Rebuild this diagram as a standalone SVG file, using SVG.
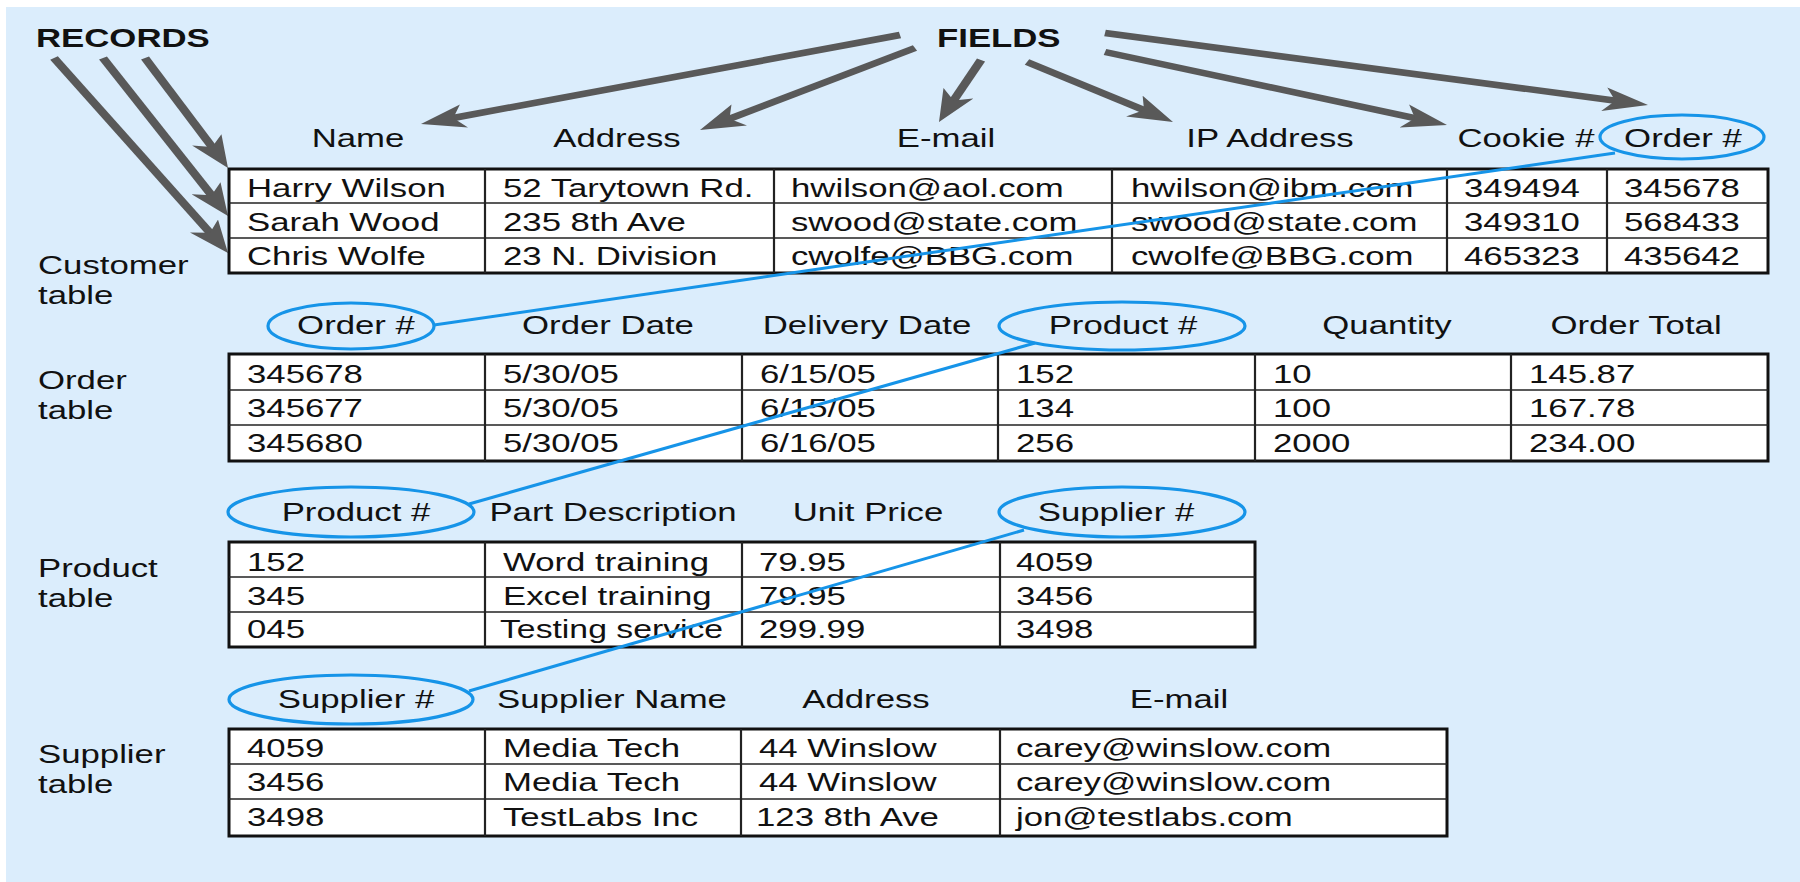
<svg xmlns="http://www.w3.org/2000/svg" width="1800" height="882" viewBox="0 0 1800 882">
<style>
.t{font-family:"Liberation Sans",Arial,sans-serif;font-size:25px;fill:#111}
.b{font-weight:bold}
.m{text-anchor:middle}
.tb{fill:#fff;stroke:#111;stroke-width:3}
.hl{stroke:#222;stroke-width:1.6}
.vl{stroke:#222;stroke-width:2.2}
.key{fill:none;stroke:#1694e8;stroke-width:3.2}
.lnk{stroke:#1694e8;stroke-width:3;fill:none}
.arw{stroke:#595959;stroke-width:6.5;fill:none;marker-end:url(#ah)}
</style>
<defs>
<marker id="ah" markerUnits="userSpaceOnUse" markerWidth="32" markerHeight="24" viewBox="0 0 32 24" refX="14" refY="12" orient="auto">
<path d="M0,0 L32,12 L0,24 L8,12 Z" fill="#595959"/>
</marker>
</defs>
<rect x="0" y="0" width="1800" height="882" fill="#fff"/>
<rect x="6" y="7" width="1794" height="875" fill="#dbedfc"/>

<g id="connectors">
<g transform="scale(1.39 1)">
<line class="arw" x1="38.85" y1="58" x2="154.30" y2="237.85"/>
<line class="arw" x1="74.10" y1="58" x2="155.13" y2="200.36"/>
<line class="arw" x1="104.32" y1="58" x2="155.44" y2="152.18"/>
<line class="arw" x1="647.48" y1="35" x2="320.31" y2="119.50"/>
<line class="arw" x1="658.27" y1="48" x2="519.50" y2="121.57"/>
<line class="arw" x1="705.76" y1="60" x2="683.43" y2="105.82"/>
<line class="arw" x1="738.85" y1="62" x2="828.25" y2="113.07"/>
<line class="arw" x1="794.96" y1="52" x2="1023.75" y2="119.88"/>
<line class="arw" x1="794.96" y1="33" x2="1167.91" y2="101.74"/>
</g>
</g>

<g id="records-label">
<text class="t b" transform="translate(36 47) scale(1.39 1)">RECORDS</text>
</g>
<g id="fields-label">
<text class="t b" transform="translate(937 47) scale(1.39 1)">FIELDS</text>
</g>

<g id="customer-table">
<text class="t" transform="translate(38 274) scale(1.39 1)">Customer</text>
<text class="t" transform="translate(38 304) scale(1.39 1)">table</text>
<text class="t m" transform="translate(358 147) scale(1.39 1)">Name</text>
<text class="t m" transform="translate(617 147) scale(1.39 1)">Address</text>
<text class="t m" transform="translate(946 147) scale(1.39 1)">E-mail</text>
<text class="t m" transform="translate(1270 147) scale(1.39 1)">IP Address</text>
<text class="t m" transform="translate(1526 147) scale(1.39 1)">Cookie #</text>
<text class="t m" transform="translate(1683 147) scale(1.39 1)">Order #</text>
<rect class="tb" x="229" y="169" width="1539" height="104"/>
<line class="hl" x1="229" y1="203" x2="1768" y2="203"/>
<line class="hl" x1="229" y1="238" x2="1768" y2="238"/>
<line class="vl" x1="485" y1="169" x2="485" y2="273"/>
<line class="vl" x1="774" y1="169" x2="774" y2="273"/>
<line class="vl" x1="1112" y1="169" x2="1112" y2="273"/>
<line class="vl" x1="1447" y1="169" x2="1447" y2="273"/>
<line class="vl" x1="1607" y1="169" x2="1607" y2="273"/>
<text class="t" transform="translate(247 197) scale(1.39 1)">Harry Wilson</text>
<text class="t" transform="translate(503 197) scale(1.39 1)">52 Tarytown Rd.</text>
<text class="t" transform="translate(791 197) scale(1.39 1)">hwilson@aol.com</text>
<text class="t" transform="translate(1131 197) scale(1.39 1)">hwilson@ibm.com</text>
<text class="t" transform="translate(1464 197) scale(1.39 1)">349494</text>
<text class="t" transform="translate(1624 197) scale(1.39 1)">345678</text>
<text class="t" transform="translate(247 231) scale(1.39 1)">Sarah Wood</text>
<text class="t" transform="translate(503 231) scale(1.39 1)">235 8th Ave</text>
<text class="t" transform="translate(791 231) scale(1.39 1)">swood@state.com</text>
<text class="t" transform="translate(1131 231) scale(1.39 1)">swood@state.com</text>
<text class="t" transform="translate(1464 231) scale(1.39 1)">349310</text>
<text class="t" transform="translate(1624 231) scale(1.39 1)">568433</text>
<text class="t" transform="translate(247 265) scale(1.39 1)">Chris Wolfe</text>
<text class="t" transform="translate(503 265) scale(1.39 1)">23 N. Division</text>
<text class="t" transform="translate(791 265) scale(1.39 1)">cwolfe@BBG.com</text>
<text class="t" transform="translate(1131 265) scale(1.39 1)">cwolfe@BBG.com</text>
<text class="t" transform="translate(1464 265) scale(1.39 1)">465323</text>
<text class="t" transform="translate(1624 265) scale(1.39 1)">435642</text>
</g>

<g id="order-table">
<text class="t" transform="translate(38 389) scale(1.39 1)">Order</text>
<text class="t" transform="translate(38 419) scale(1.39 1)">table</text>
<text class="t m" transform="translate(356 334) scale(1.39 1)">Order #</text>
<text class="t m" transform="translate(608 334) scale(1.39 1)">Order Date</text>
<text class="t m" transform="translate(867 334) scale(1.39 1)">Delivery Date</text>
<text class="t m" transform="translate(1123 334) scale(1.39 1)">Product #</text>
<text class="t m" transform="translate(1387 334) scale(1.39 1)">Quantity</text>
<text class="t m" transform="translate(1636 334) scale(1.39 1)">Order Total</text>
<rect class="tb" x="229" y="354" width="1539" height="107"/>
<line class="hl" x1="229" y1="390" x2="1768" y2="390"/>
<line class="hl" x1="229" y1="425" x2="1768" y2="425"/>
<line class="vl" x1="485" y1="354" x2="485" y2="461"/>
<line class="vl" x1="742" y1="354" x2="742" y2="461"/>
<line class="vl" x1="998" y1="354" x2="998" y2="461"/>
<line class="vl" x1="1255" y1="354" x2="1255" y2="461"/>
<line class="vl" x1="1511" y1="354" x2="1511" y2="461"/>
<text class="t" transform="translate(247 383) scale(1.39 1)">345678</text>
<text class="t" transform="translate(503 383) scale(1.39 1)">5/30/05</text>
<text class="t" transform="translate(760 383) scale(1.39 1)">6/15/05</text>
<text class="t" transform="translate(1016 383) scale(1.39 1)">152</text>
<text class="t" transform="translate(1273 383) scale(1.39 1)">10</text>
<text class="t" transform="translate(1529 383) scale(1.39 1)">145.87</text>
<text class="t" transform="translate(247 417) scale(1.39 1)">345677</text>
<text class="t" transform="translate(503 417) scale(1.39 1)">5/30/05</text>
<text class="t" transform="translate(760 417) scale(1.39 1)">6/15/05</text>
<text class="t" transform="translate(1016 417) scale(1.39 1)">134</text>
<text class="t" transform="translate(1273 417) scale(1.39 1)">100</text>
<text class="t" transform="translate(1529 417) scale(1.39 1)">167.78</text>
<text class="t" transform="translate(247 452) scale(1.39 1)">345680</text>
<text class="t" transform="translate(503 452) scale(1.39 1)">5/30/05</text>
<text class="t" transform="translate(760 452) scale(1.39 1)">6/16/05</text>
<text class="t" transform="translate(1016 452) scale(1.39 1)">256</text>
<text class="t" transform="translate(1273 452) scale(1.39 1)">2000</text>
<text class="t" transform="translate(1529 452) scale(1.39 1)">234.00</text>
</g>

<g id="product-table">
<text class="t" transform="translate(38 577) scale(1.39 1)">Product</text>
<text class="t" transform="translate(38 607) scale(1.39 1)">table</text>
<text class="t m" transform="translate(356 521) scale(1.39 1)">Product #</text>
<text class="t m" transform="translate(613 521) scale(1.39 1)">Part Description</text>
<text class="t m" transform="translate(868 521) scale(1.39 1)">Unit Price</text>
<text class="t m" transform="translate(1116 521) scale(1.39 1)">Supplier #</text>
<rect class="tb" x="229" y="542" width="1026" height="105"/>
<line class="hl" x1="229" y1="577" x2="1255" y2="577"/>
<line class="hl" x1="229" y1="612" x2="1255" y2="612"/>
<line class="vl" x1="485" y1="542" x2="485" y2="647"/>
<line class="vl" x1="742" y1="542" x2="742" y2="647"/>
<line class="vl" x1="1000" y1="542" x2="1000" y2="647"/>
<text class="t" transform="translate(247 571) scale(1.39 1)">152</text>
<text class="t" transform="translate(503 571) scale(1.39 1)">Word training</text>
<text class="t" transform="translate(759 571) scale(1.39 1)">79.95</text>
<text class="t" transform="translate(1016 571) scale(1.39 1)">4059</text>
<text class="t" transform="translate(247 605) scale(1.39 1)">345</text>
<text class="t" transform="translate(503 605) scale(1.39 1)">Excel training</text>
<text class="t" transform="translate(759 605) scale(1.39 1)">79.95</text>
<text class="t" transform="translate(1016 605) scale(1.39 1)">3456</text>
<text class="t" transform="translate(247 638) scale(1.39 1)">045</text>
<text class="t" transform="translate(500 638) scale(1.35 1)">Testing service</text>
<text class="t" transform="translate(759 638) scale(1.39 1)">299.99</text>
<text class="t" transform="translate(1016 638) scale(1.39 1)">3498</text>
</g>

<g id="supplier-table">
<text class="t" transform="translate(38 763) scale(1.39 1)">Supplier</text>
<text class="t" transform="translate(38 793) scale(1.39 1)">table</text>
<text class="t m" transform="translate(356 708) scale(1.39 1)">Supplier #</text>
<text class="t m" transform="translate(612 708) scale(1.39 1)">Supplier Name</text>
<text class="t m" transform="translate(866 708) scale(1.39 1)">Address</text>
<text class="t m" transform="translate(1179 708) scale(1.39 1)">E-mail</text>
<rect class="tb" x="229" y="729" width="1218" height="107"/>
<line class="hl" x1="229" y1="764" x2="1447" y2="764"/>
<line class="hl" x1="229" y1="799" x2="1447" y2="799"/>
<line class="vl" x1="485" y1="729" x2="485" y2="836"/>
<line class="vl" x1="741" y1="729" x2="741" y2="836"/>
<line class="vl" x1="1000" y1="729" x2="1000" y2="836"/>
<text class="t" transform="translate(247 757) scale(1.39 1)">4059</text>
<text class="t" transform="translate(503 757) scale(1.39 1)">Media Tech</text>
<text class="t" transform="translate(759 757) scale(1.39 1)">44 Winslow</text>
<text class="t" transform="translate(1016 757) scale(1.39 1)">carey@winslow.com</text>
<text class="t" transform="translate(247 791) scale(1.39 1)">3456</text>
<text class="t" transform="translate(503 791) scale(1.39 1)">Media Tech</text>
<text class="t" transform="translate(759 791) scale(1.39 1)">44 Winslow</text>
<text class="t" transform="translate(1016 791) scale(1.39 1)">carey@winslow.com</text>
<text class="t" transform="translate(247 826) scale(1.39 1)">3498</text>
<text class="t" transform="translate(503 826) scale(1.39 1)">TestLabs Inc</text>
<text class="t" transform="translate(756 826) scale(1.39 1)">123 8th Ave</text>
<text class="t" transform="translate(1016 826) scale(1.39 1)">jon@testlabs.com</text>
</g>

<g id="key-links">
<ellipse class="key" cx="1682" cy="137" rx="82" ry="22"/>
<ellipse class="key" cx="351" cy="326" rx="83" ry="23"/>
<ellipse class="key" cx="1122" cy="326" rx="123" ry="24"/>
<ellipse class="key" cx="351" cy="512" rx="123" ry="25"/>
<ellipse class="key" cx="1122" cy="512" rx="123" ry="25"/>
<ellipse class="key" cx="351" cy="699.5" rx="122" ry="24.5"/>
<line class="lnk" x1="1615" y1="153" x2="434" y2="325"/>
<line class="lnk" x1="1035" y1="343" x2="469" y2="504"/>
<line class="lnk" x1="1024" y1="530" x2="469" y2="691"/>
</g>
</svg>
